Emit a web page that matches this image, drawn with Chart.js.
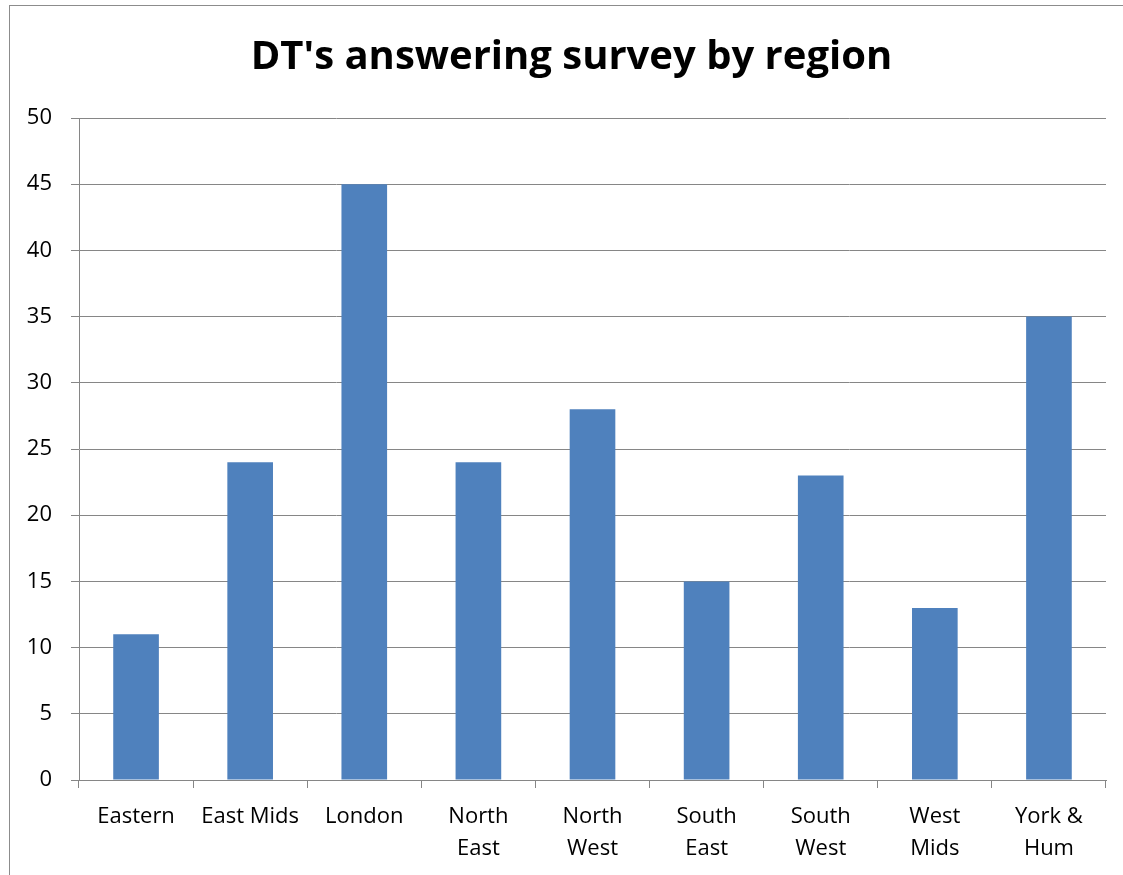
<!DOCTYPE html>
<html>
<head>
<meta charset="utf-8">
<script src="https://cdn.jsdelivr.net/npm/chart.js@4/dist/chart.umd.min.js"></script>
<style>
  html, body { margin: 0; padding: 0; background: #fff; }
  #wrap { position: relative; width: 1123px; height: 875px; overflow: hidden; }
  #frame { position: absolute; left: 9px; top: 5px; width: 1200px; height: 1000px; border: 1px solid #8c8c8c; box-sizing: border-box; }
  canvas { position: absolute; left: 0; top: 0; }
</style>
</head>
<body>
<div id="wrap">
  <div id="frame"></div>
  <canvas id="c" width="1123" height="875"></canvas>
</div>
<script>
// Survey responses per region
const regions = [
  'Eastern', 'East Mids', 'London', ['North', 'East'], ['North', 'West'],
  ['South', 'East'], ['South', 'West'], ['West', 'Mids'], ['York &', 'Hum']
];
const responses = [11, 24, 45, 24, 28, 15, 23, 13, 35];
const yTicks = [0, 5, 10, 15, 20, 25, 30, 35, 40, 45, 50];

const FONT = '"Open Sans", Lato, sans-serif';
const GRID = '#868686';

new Chart(document.getElementById('c'), {
  type: 'bar',
  data: {
    labels: regions,
    datasets: [{
      data: responses,
      backgroundColor: '#4F81BD',
      borderWidth: 0,
      barPercentage: 0.4,
      categoryPercentage: 1.0
    }]
  },
  options: {
    responsive: false,
    devicePixelRatio: 1,
    animation: false,
    layout: { padding: { left: 20, right: 0, top: 0, bottom: 0 } },
    plugins: {
      legend: { display: false },
      tooltip: { enabled: false },
      title: {
        display: true,
        text: "DT's answering survey by region",
        color: '#000',
        font: { family: FONT, size: 40, weight: 'bold', lineHeight: 1.2 },
        padding: { top: 34, bottom: 36 }
      }
    },
    scales: {
      x: {
        grid: {
          offset: true,
          drawOnChartArea: false,
          drawTicks: true,
          tickLength: 8,
          color: GRID,
          lineWidth: 1
        },
        border: { display: true, color: GRID, width: 1 },
        ticks: {
          color: '#000',
          padding: 13,
          maxRotation: 0,
          autoSkip: false,
          font: { family: FONT, size: 22, lineHeight: 1.45 }
        },
        afterFit(scale) { scale.height = 95; }
      },
      y: {
        min: 0,
        max: 50,
        afterBuildTicks(scale) { scale.ticks = yTicks.map(v => ({ value: v })); },
        grid: {
          drawTicks: true,
          tickLength: 8,
          color: GRID,
          lineWidth: 1
        },
        border: { display: true, color: GRID, width: 1 },
        ticks: {
          color: '#000',
          padding: 19,
          font: { family: FONT, size: 22 }
        },
        afterFit(scale) { scale.width = 59; }
      },
      // empty margin to the right of the plot area
      yRight: {
        position: 'right',
        grid: { display: false },
        border: { display: false },
        ticks: { display: false },
        afterFit(scale) { scale.width = 17; }
      }
    }
  }
});
</script>
</body>
</html>
